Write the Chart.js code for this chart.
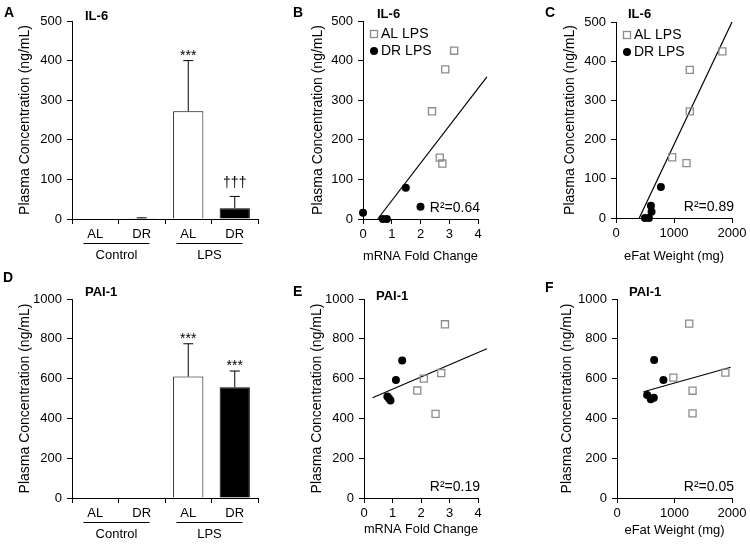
<!DOCTYPE html>
<html>
<head>
<meta charset="utf-8">
<script src="https://cdn.jsdelivr.net/npm/chart.js@4/dist/chart.umd.min.js"></script>
<style>
  body { margin: 0; background: #fff; width: 750px; height: 547px; position: relative; overflow: hidden; }
  canvas { position: absolute; }
</style>
</head>
<body>
<canvas id="pA"></canvas>
<canvas id="pB"></canvas>
<canvas id="pC"></canvas>
<canvas id="pD"></canvas>
<canvas id="pE"></canvas>
<canvas id="pF"></canvas>
<script>
// bar panels (A, D)
const groupCats = ["AL", "DR", "AL", "DR"];
const groupNames = ["Control", "LPS"];
const il6Mean = [1, 2, 272, 27];
const il6Err = [0, 1, 128, 30];
const il6Sig = ["", "", "***", "†††"];
const pai1Mean = [0, 0, 610, 557];
const pai1Err = [0, 0, 165, 81];
const pai1Sig = ["", "", "***", "***"];

// B: IL-6 vs mRNA fold change
const bAlX = [3.17, 2.86, 2.4, 2.67, 2.76];
const bAlY = [425, 378, 272, 155, 140];
const bDrX = [0, 0.69, 0.83, 1.49, 2.0];
const bDrY = [16, 0, 0, 79, 31];
const bFitX = [0.51, 4.31];
const bFitY = [0, 359];

// C: IL-6 vs eFat weight
const cAlX = [1834, 1272, 1272, 968, 1215];
const cAlY = [425, 378, 272, 155, 140];
const cDrX = [499, 567, 602, 613, 774];
const cDrY = [0, 0, 31, 16, 79];
const cFitX = [401, 2000];
const cFitY = [0, 500];

// E: PAI-1 vs mRNA fold change
const eAlX = [1.87, 2.1, 2.51, 2.71, 2.84];
const eAlY = [540, 600, 423, 628, 873];
const eDrX = [0.82, 0.88, 0.93, 1.12, 1.34];
const eDrY = [510, 500, 490, 593, 691];
const eFitX = [0.3, 4.31];
const eFitY = [504, 750];

// F: PAI-1 vs eFat weight
const fAlX = [980, 1256, 1314, 1314, 1885];
const fAlY = [605, 876, 539, 425, 630];
const fDrX = [524, 588, 640, 646, 807];
const fDrY = [518, 496, 504, 694, 593];
const fFitX = [461, 1977];
const fFitY = [534, 657];

const FONT = "'Liberation Sans', Arial, sans-serif";
Chart.defaults.font.family = FONT;
Chart.defaults.font.size = 13;
Chart.defaults.color = "#000";
Chart.defaults.animation = false;
Chart.defaults.events = [];

const pts = (xs, ys) => xs.map((x, i) => ({ x: x, y: ys[i] }));
const plain = (v) => String(v); // no thousands separator

// place the canvas and work out paddings so the plot area lands where the figure has it
function frame(id, box, area, yTitleX, xTitleY) {
  const cv = document.getElementById(id);
  cv.style.left = box.x + "px";
  cv.style.top = box.y + "px";
  cv.width = box.w;
  cv.height = box.h;
  const yLeft = yTitleX - 8.4 - box.x;
  const xBottom = xTitleY ? xTitleY + 7.8 - box.y : box.h;
  return {
    ctx: cv,
    padding: {
      left: yLeft,
      top: area.t - box.y,
      right: box.x + box.w - area.r,
      bottom: box.h - xBottom,
    },
    yWidth: area.l - box.x - yLeft,
    xHeight: xBottom - (area.b - box.y),
  };
}

const axisGrid = { drawOnChartArea: false, drawTicks: true, tickLength: 5, color: "#000", lineWidth: 1 };
const axisBorder = { color: "#000", width: 1 };

const decor = {
  id: "decor",
  afterDraw(chart, args, o) {
    const ctx = chart.ctx;
    const area = chart.chartArea;
    const ys = chart.scales.y;
    ctx.save();
    ctx.fillStyle = "#000";
    ctx.strokeStyle = "#000";
    ctx.textBaseline = "middle";

    ctx.font = "bold 14px " + FONT;
    ctx.textAlign = "left";
    ctx.fillText(o.letter, o.letterPos[0], o.letterPos[1]);
    ctx.font = "bold 13px " + FONT;
    ctx.fillText(o.title, o.titlePos[0], o.titlePos[1]);

    if (o.err) {
      const meta = chart.getDatasetMeta(0);
      const mean = chart.data.datasets[0].data;
      ctx.lineWidth = 1;
      meta.data.forEach((bar, i) => {
        if (!o.err[i]) return;
        const top = ys.getPixelForValue(mean[i] + o.err[i]);
        ctx.beginPath();
        ctx.moveTo(bar.x, bar.y);
        ctx.lineTo(bar.x, top);
        ctx.moveTo(bar.x - 5, top);
        ctx.lineTo(bar.x + 5, top);
        ctx.stroke();
        if (o.sig[i]) {
          ctx.font = "14px " + FONT;
          ctx.textAlign = "center";
          ctx.textBaseline = "alphabetic";
          const lift = o.sig[i].includes("†") ? 9 : 1;
          ctx.fillText(o.sig[i], bar.x, top - lift);
        }
      });
      // group underline and names
      const xs = chart.scales.x;
      ctx.font = "13px " + FONT;
      ctx.textAlign = "center";
      ctx.textBaseline = "middle";
      groupNames.forEach((g, k) => {
        const c = (xs.getPixelForValue(2 * k) + xs.getPixelForValue(2 * k + 1)) / 2 - 2;
        ctx.beginPath();
        ctx.moveTo(c - 33, area.bottom + 24.5);
        ctx.lineTo(c + 33, area.bottom + 24.5);
        ctx.stroke();
        ctx.fillText(g, c, area.bottom + 36);
      });
    }

    if (o.r2) {
      ctx.font = "14px " + FONT;
      ctx.textAlign = "right";
      ctx.textBaseline = "middle";
      ctx.fillText(o.r2, area.right + 2, area.bottom - 11);
    }

    if (o.legend) {
      const lx = area.left + 11;
      const ly = area.top + 13;
      ctx.strokeStyle = "#8c8c8c";
      ctx.lineWidth = 1.3;
      ctx.strokeRect(lx - 3.5, ly - 3.5, 7, 7);
      ctx.fillStyle = "#000";
      ctx.beginPath();
      ctx.arc(lx, ly + 17, 4, 0, Math.PI * 2);
      ctx.fill();
      ctx.font = "14px " + FONT;
      ctx.textAlign = "left";
      ctx.fillText("AL LPS", lx + 7, ly);
      ctx.fillText("DR LPS", lx + 7, ly + 17);
    }
    ctx.restore();
  },
};

function barPanel(id, box, area, yTitleX, yMax, yStep, mean, err, sig, letter, letterPos, title, titlePos) {
  const f = frame(id, box, area, yTitleX, null);
  return new Chart(f.ctx, {
    type: "bar",
    data: {
      labels: groupCats,
      datasets: [{
        data: mean,
        backgroundColor: ["#fff", "#000", "#fff", "#000"],
        borderColor: "#000",
        borderWidth: 1,
        categoryPercentage: 1,
        barPercentage: 0.65,
      }],
    },
    options: {
      responsive: false,
      layout: { padding: f.padding },
      plugins: {
        legend: { display: false },
        tooltip: { enabled: false },
        decor: { letter, letterPos, title, titlePos, err, sig },
      },
      scales: {
        x: {
          offset: true,
          grid: Object.assign({ offset: true }, axisGrid),
          border: axisBorder,
          ticks: { padding: 3, maxRotation: 0 },
          afterFit: (s) => { s.height = f.xHeight; },
        },
        y: {
          min: 0,
          max: yMax,
          grid: axisGrid,
          border: axisBorder,
          ticks: { stepSize: yStep, padding: 5, callback: plain },
          title: { display: true, text: "Plasma Concentration (ng/mL)", font: { size: 14 }, padding: 0 },
          afterFit: (s) => { s.width = f.yWidth; },
        },
      },
    },
    plugins: [decor],
  });
}

function scatterPanel(p) {
  const f = frame(p.id, p.box, p.area, p.yTitleX, p.xTitleY);
  return new Chart(f.ctx, {
    type: "scatter",
    data: {
      datasets: [
        {
          type: "line",
          data: pts(p.fitX, p.fitY),
          borderColor: "#000",
          borderWidth: 1.2,
          pointRadius: 0,
          fill: false,
          clip: false,
          order: 3,
        },
        {
          data: pts(p.alX, p.alY),
          pointStyle: "rect",
          pointRadius: 5,
          borderColor: "#8c8c8c",
          backgroundColor: "rgba(255,255,255,0)",
          borderWidth: 1.3,
          clip: false,
          order: 2,
        },
        {
          data: pts(p.drX, p.drY),
          pointStyle: "circle",
          pointRadius: 4,
          borderColor: "#000",
          backgroundColor: "#000",
          borderWidth: 0,
          clip: false,
          order: 1,
        },
      ],
    },
    options: {
      responsive: false,
      layout: { padding: f.padding },
      plugins: {
        legend: { display: false },
        tooltip: { enabled: false },
        decor: { letter: p.letter, letterPos: p.letterPos, title: p.title, titlePos: p.titlePos, r2: p.r2, legend: p.legend },
      },
      scales: {
        x: {
          type: "linear",
          min: 0,
          max: p.xMax,
          grid: axisGrid,
          border: axisBorder,
          ticks: { stepSize: p.xStep, padding: 3, callback: plain },
          title: { display: true, text: p.xTitle, font: { size: 13 }, padding: 0 },
          afterFit: (s) => { s.height = f.xHeight; },
        },
        y: {
          min: 0,
          max: p.yMax,
          grid: axisGrid,
          border: axisBorder,
          ticks: { stepSize: p.yStep, padding: 5, callback: plain },
          title: { display: true, text: "Plasma Concentration (ng/mL)", font: { size: 14 }, padding: 0 },
          afterFit: (s) => { s.width = f.yWidth; },
        },
      },
    },
    plugins: [decor],
  });
}

barPanel("pA", { x: 0, y: 0, w: 265, h: 270 }, { l: 72, t: 21, r: 258, b: 219 }, 25,
  500, 100, il6Mean, il6Err, il6Sig, "A", [4, 13], "IL-6", [85, 16]);

barPanel("pD", { x: 0, y: 270, w: 265, h: 277 }, { l: 72, t: 299, r: 258, b: 498 }, 25,
  1000, 200, pai1Mean, pai1Err, pai1Sig, "D", [3, 8], "PAI-1", [85, 22]);

scatterPanel({
  id: "pB", box: { x: 280, y: 0, w: 220, h: 270 }, area: { l: 363, t: 21, r: 478, b: 219 },
  yTitleX: 318, xTitleY: 256, xMax: 4, xStep: 1, yMax: 500, yStep: 100,
  xTitle: "mRNA Fold Change", alX: bAlX, alY: bAlY, drX: bDrX, drY: bDrY, fitX: bFitX, fitY: bFitY,
  letter: "B", letterPos: [13, 13], title: "IL-6", titlePos: [97, 14], r2: "R²=0.64", legend: true,
});

scatterPanel({
  id: "pC", box: { x: 530, y: 0, w: 220, h: 270 }, area: { l: 616, t: 22, r: 732, b: 218 },
  yTitleX: 570, xTitleY: 256, xMax: 2000, xStep: 1000, yMax: 500, yStep: 100,
  xTitle: "eFat Weight (mg)", alX: cAlX, alY: cAlY, drX: cDrX, drY: cDrY, fitX: cFitX, fitY: cFitY,
  letter: "C", letterPos: [15, 13], title: "IL-6", titlePos: [98, 14], r2: "R²=0.89", legend: true,
});

scatterPanel({
  id: "pE", box: { x: 280, y: 270, w: 220, h: 277 }, area: { l: 364, t: 299, r: 478, b: 498 },
  yTitleX: 317, xTitleY: 529, xMax: 4, xStep: 1, yMax: 1000, yStep: 200,
  xTitle: "mRNA Fold Change", alX: eAlX, alY: eAlY, drX: eDrX, drY: eDrY, fitX: eFitX, fitY: eFitY,
  letter: "E", letterPos: [13, 22], title: "PAI-1", titlePos: [96, 26], r2: "R²=0.19", legend: false,
});

scatterPanel({
  id: "pF", box: { x: 530, y: 270, w: 220, h: 277 }, area: { l: 617, t: 299, r: 732, b: 498 },
  yTitleX: 567, xTitleY: 530, xMax: 2000, xStep: 1000, yMax: 1000, yStep: 200,
  xTitle: "eFat Weight (mg)", alX: fAlX, alY: fAlY, drX: fDrX, drY: fDrY, fitX: fFitX, fitY: fFitY,
  letter: "F", letterPos: [15, 18], title: "PAI-1", titlePos: [99, 22], r2: "R²=0.05", legend: false,
});
</script>
</body>
</html>
